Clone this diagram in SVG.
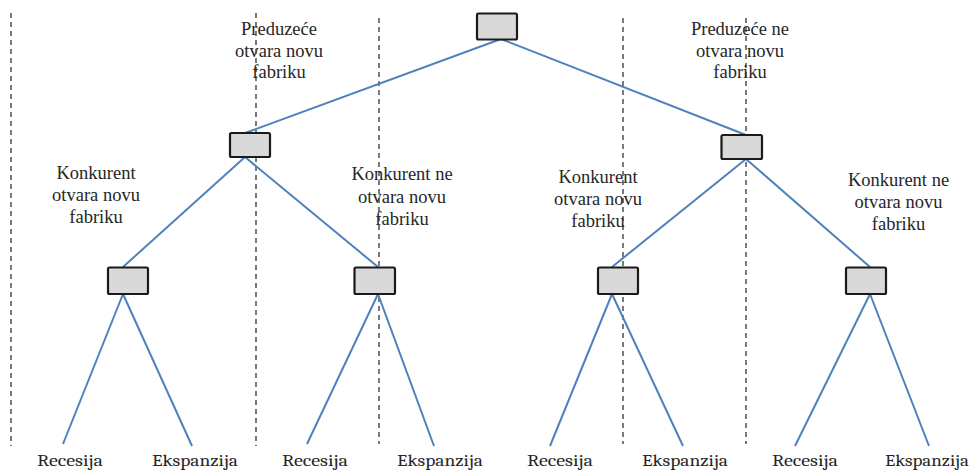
<svg xmlns="http://www.w3.org/2000/svg" width="977" height="470" viewBox="0 0 977 470">
  <style>
    .guide { stroke: #333333; stroke-width: 1.3; stroke-dasharray: 5 4; fill: none; }
    .edge { stroke: #4f81bd; stroke-width: 2; fill: none; }
    .box { fill: #d9d9d9; stroke: #1a1a1a; stroke-width: 2.2; }
    .lbl { font-family: "Times New Roman", Times, "Liberation Serif", Tinos, "Nimbus Roman", "Noto Serif", "DejaVu Serif", serif; font-size: 18.5px; fill: #262626; text-anchor: middle; }
    .leaf { font-family: Cambria, Caladea, "DejaVu Serif", "Liberation Serif", "Noto Serif", serif; font-size: 16.5px; fill: #262626; text-anchor: middle; }
  </style>

  <!-- dashed separators between the branches -->
  <g id="guides">
    <line class="guide" x1="11" y1="13" x2="11" y2="446"/>
    <line class="guide" x1="256" y1="13" x2="256" y2="446"/>
    <line class="guide" x1="379" y1="18" x2="379" y2="444"/>
    <line class="guide" x1="623" y1="18" x2="623" y2="444"/>
    <line class="guide" x1="746" y1="18" x2="746" y2="444"/>
  </g>

  <!-- tree edges -->
  <g id="connectors">
    <line class="edge" x1="501" y1="39" x2="245" y2="133"/>
    <line class="edge" x1="501" y1="39" x2="746" y2="135"/>
    <line class="edge" x1="245" y1="157" x2="123" y2="267"/>
    <line class="edge" x1="245" y1="157" x2="378" y2="267"/>
    <line class="edge" x1="746" y1="159" x2="612" y2="267"/>
    <line class="edge" x1="746" y1="159" x2="870" y2="267"/>
    <line class="edge" x1="123" y1="294" x2="63" y2="444"/>
    <line class="edge" x1="123" y1="294" x2="192" y2="446"/>
    <line class="edge" x1="378" y1="294" x2="307" y2="444"/>
    <line class="edge" x1="378" y1="294" x2="434" y2="446"/>
    <line class="edge" x1="612" y1="294" x2="550" y2="446"/>
    <line class="edge" x1="612" y1="294" x2="683" y2="446"/>
    <line class="edge" x1="870" y1="294" x2="795" y2="446"/>
    <line class="edge" x1="870" y1="294" x2="929" y2="446"/>
  </g>

  <!-- decision / chance nodes -->
  <g id="root"><rect class="box" x="477" y="13.5" width="40" height="26" rx="1.5"/></g>
  <g id="firm-opens"><rect class="box" x="230" y="133" width="40" height="24" rx="1.5"/></g>
  <g id="firm-not-open"><rect class="box" x="721.5" y="135" width="40.5" height="24" rx="1.5"/></g>
  <g id="rival-opens-a"><rect class="box" x="108" y="267.5" width="40" height="26.5" rx="1.5"/></g>
  <g id="rival-not-open-a"><rect class="box" x="354.5" y="267.5" width="40.5" height="26.5" rx="1.5"/></g>
  <g id="rival-opens-b"><rect class="box" x="598" y="267.5" width="40" height="26.5" rx="1.5"/></g>
  <g id="rival-not-open-b"><rect class="box" x="846" y="267.5" width="40" height="26.5" rx="1.5"/></g>

  <!-- branch labels -->
  <g id="labels">
    <text class="lbl" x="279" y="35">Preduzeće</text>
    <text class="lbl" x="279" y="56.5">otvara novu</text>
    <text class="lbl" x="279" y="78">fabriku</text>

    <text class="lbl" x="740" y="35">Preduzeće ne</text>
    <text class="lbl" x="740" y="56.5">otvara novu</text>
    <text class="lbl" x="740" y="78">fabriku</text>

    <text class="lbl" x="96" y="178.5">Konkurent</text>
    <text class="lbl" x="96" y="200.5">otvara novu</text>
    <text class="lbl" x="96" y="222.5">fabriku</text>

    <text class="lbl" x="402" y="180">Konkurent ne</text>
    <text class="lbl" x="402" y="202.5">otvara novu</text>
    <text class="lbl" x="402" y="225">fabriku</text>

    <text class="lbl" x="598" y="183">Konkurent</text>
    <text class="lbl" x="598" y="205">otvara novu</text>
    <text class="lbl" x="598" y="227">fabriku</text>

    <text class="lbl" x="898.5" y="186">Konkurent ne</text>
    <text class="lbl" x="898.5" y="208">otvara novu</text>
    <text class="lbl" x="898.5" y="230">fabriku</text>
  </g>

  <!-- outcomes -->
  <g id="outcomes">
    <text class="leaf" x="70" y="466" textLength="66" lengthAdjust="spacingAndGlyphs">Recesija</text>
    <text class="leaf" x="195" y="466" textLength="86" lengthAdjust="spacingAndGlyphs">Ekspanzija</text>
    <text class="leaf" x="315" y="466" textLength="66" lengthAdjust="spacingAndGlyphs">Recesija</text>
    <text class="leaf" x="440" y="466" textLength="86" lengthAdjust="spacingAndGlyphs">Ekspanzija</text>
    <text class="leaf" x="560" y="466" textLength="66" lengthAdjust="spacingAndGlyphs">Recesija</text>
    <text class="leaf" x="685" y="466" textLength="86" lengthAdjust="spacingAndGlyphs">Ekspanzija</text>
    <text class="leaf" x="805" y="466" textLength="66" lengthAdjust="spacingAndGlyphs">Recesija</text>
    <text class="leaf" x="927" y="466" textLength="84" lengthAdjust="spacingAndGlyphs">Ekspanzija</text>
  </g>
</svg>
